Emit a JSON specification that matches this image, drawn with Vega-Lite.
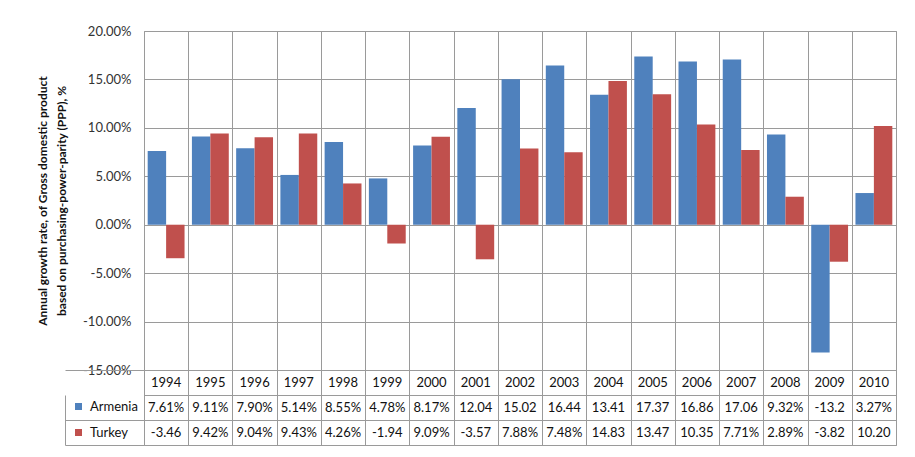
{
  "$schema": "https://vega.github.io/schema/vega-lite/v6.json",
  "background": "white",
  "padding": {"left": 36, "top": 24, "right": 5, "bottom": 5},
  "bounds": "flush",
  "spacing": 0,
  "config": {
    "font": "Lato",
    "view": {"stroke": "#9a9a9a", "strokeWidth": 1}
  },
  "data": {
    "values": [
      {"year": 1994, "country": "Armenia", "value": 7.61},
      {"year": 1995, "country": "Armenia", "value": 9.11},
      {"year": 1996, "country": "Armenia", "value": 7.90},
      {"year": 1997, "country": "Armenia", "value": 5.14},
      {"year": 1998, "country": "Armenia", "value": 8.55},
      {"year": 1999, "country": "Armenia", "value": 4.78},
      {"year": 2000, "country": "Armenia", "value": 8.17},
      {"year": 2001, "country": "Armenia", "value": 12.04},
      {"year": 2002, "country": "Armenia", "value": 15.02},
      {"year": 2003, "country": "Armenia", "value": 16.44},
      {"year": 2004, "country": "Armenia", "value": 13.41},
      {"year": 2005, "country": "Armenia", "value": 17.37},
      {"year": 2006, "country": "Armenia", "value": 16.86},
      {"year": 2007, "country": "Armenia", "value": 17.06},
      {"year": 2008, "country": "Armenia", "value": 9.32},
      {"year": 2009, "country": "Armenia", "value": -13.2},
      {"year": 2010, "country": "Armenia", "value": 3.27},
      {"year": 1994, "country": "Turkey", "value": -3.46},
      {"year": 1995, "country": "Turkey", "value": 9.42},
      {"year": 1996, "country": "Turkey", "value": 9.04},
      {"year": 1997, "country": "Turkey", "value": 9.43},
      {"year": 1998, "country": "Turkey", "value": 4.26},
      {"year": 1999, "country": "Turkey", "value": -1.94},
      {"year": 2000, "country": "Turkey", "value": 9.09},
      {"year": 2001, "country": "Turkey", "value": -3.57},
      {"year": 2002, "country": "Turkey", "value": 7.88},
      {"year": 2003, "country": "Turkey", "value": 7.48},
      {"year": 2004, "country": "Turkey", "value": 14.83},
      {"year": 2005, "country": "Turkey", "value": 13.47},
      {"year": 2006, "country": "Turkey", "value": 10.35},
      {"year": 2007, "country": "Turkey", "value": 7.71},
      {"year": 2008, "country": "Turkey", "value": 2.89},
      {"year": 2009, "country": "Turkey", "value": -3.82},
      {"year": 2010, "country": "Turkey", "value": 10.20}
    ]
  },
  "resolve": {"scale": {"color": "independent", "y": "independent", "x": "shared"}},
  "vconcat": [
    {
      "width": 752,
      "height": 339,
      "mark": {"type": "bar"},
      "encoding": {
        "x": {
          "field": "year", "type": "nominal",
          "scale": {"paddingInner": 0, "paddingOuter": 0},
          "axis": {"title": null, "labels": false, "ticks": false, "domain": false, "grid": true, "tickBand": "extent", "gridColor": "#9a9a9a", "gridWidth": 1}
        },
        "xOffset": {"field": "country", "type": "nominal", "scale": {"paddingOuter": 0.2, "paddingInner": 0}},
        "y": {
          "field": "value", "type": "quantitative",
          "scale": {"domain": [-15, 20], "nice": false, "zero": true},
          "axis": {
            "values": [-15, -10, -5, 0, 5, 10, 15, 20],
            "labelExpr": "replace(format(datum.value / 100, '.2%'), '\u2212', '-')",
            "title": ["Annual growth rate, of Gross domestic product", "based on purchasing-power-parity (PPP), %"],
            "titleFontSize": 12,
            "titleFontWeight": "bold",
            "titleColor": "#111",
            "titleLineHeight": 19,
            "titlePadding": 14,
            "labelFontSize": 13,
            "labelColor": "#333",
            "labelPadding": 13,
            "ticks": false,
            "domain": false,
            "gridColor": "#9a9a9a",
            "gridWidth": 1
          }
        },
        "color": {
          "field": "country", "type": "nominal",
          "scale": {"domain": ["Armenia", "Turkey"], "range": ["#4F81BD", "#C0504D"]},
          "legend": {
            "title": null,
            "orient": "none",
            "legendX": -72,
            "legendY": 369,
            "symbolType": "square",
            "symbolSize": 49,
            "symbolStrokeWidth": 0,
            "labelFontSize": 13,
            "labelColor": "#111",
            "labelOffset": 5,
            "rowPadding": 12,
            "padding": 0
          }
        }
      }
    },
    {
      "width": 752,
      "height": 75,
      "transform": [
        {"calculate": "replace(substring(format(datum.value / 100, '.2%'), 0, 5), '\u2212', '-')", "as": "label"}
      ],
      "encoding": {
        "x": {
          "field": "year", "type": "nominal",
          "axis": {"title": null, "labels": false, "ticks": false, "domain": false, "grid": true, "tickBand": "extent", "gridColor": "#9a9a9a", "gridWidth": 1}
        }
      },
      "resolve": {"axis": {"y": "independent"}},
      "layer": [
        {
          "mark": {"type": "text", "fontSize": 13, "color": "#111"},
          "encoding": {
            "y": {
              "field": "country", "type": "nominal",
              "scale": {"domain": ["Year", "Armenia", "Turkey"], "paddingInner": 0, "paddingOuter": 0},
              "axis": {
                "title": null, "labels": false, "domain": false, "ticks": false,
                "grid": true, "gridColor": "#9a9a9a", "tickBand": "extent"
              }
            },
            "text": {"field": "label"}
          }
        },
        {
          "transform": [{"filter": "datum.country === 'Armenia'"}],
          "mark": {"type": "text", "fontSize": 13, "color": "#111"},
          "encoding": {
            "y": {
              "datum": "Year", "type": "nominal",
              "axis": {
                "orient": "left", "offset": 79, "title": null, "labels": false, "grid": false,
                "domain": true, "domainColor": "#9a9a9a", "domainDash": [0, 25, 50],
                "ticks": true, "tickBand": "extent", "tickSize": -79, "tickColor": "#9a9a9a",
                "tickOpacity": {"condition": {"test": "datum.value === 'Year'", "value": 0}, "value": 1}
              }
            },
            "text": {"field": "year", "type": "nominal"}
          }
        }
      ]
    }
  ]
}
